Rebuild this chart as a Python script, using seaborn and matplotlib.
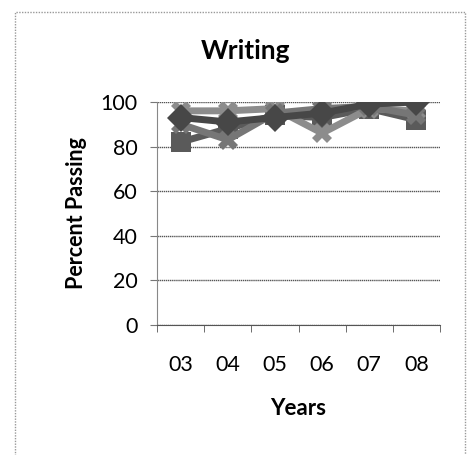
import numpy as np
import pandas as pd
import matplotlib
matplotlib.use("Agg")
import matplotlib.pyplot as plt
import seaborn as sns
from matplotlib.patches import Rectangle

# values (approximate)
years = ['03', '04', '05', '06', '07', '08']
series_a = [82, 88, 94, 93, 97, 92]
series_b = [96, 96, 97, 86, 97, 96]
series_c = [90, 83, 95, 97, 98, 94]
series_d = [93, 91, 93, 95, 99, 100]

names = ['A', 'B', 'C', 'D']
df = pd.DataFrame({
    'Year': years * 4,
    'Percent': series_a + series_b + series_c + series_d,
    'Series': [n for n in names for _ in years],
})
df['pos'] = df['Year'].map({y: i for i, y in enumerate(years)})

sns.set_style("white")
plt.rcParams['font.family'] = ['Lato', 'DejaVu Sans']
plt.rcParams['text.color'] = 'black'

fig = plt.figure(figsize=(4.72, 4.55), dpi=100)
ax = fig.add_axes([0.333, 0.286, 0.599, 0.49])

palette = {'A': '#5a5a5a', 'B': '#8c8c8c', 'C': '#767676', 'D': '#474747'}
markers = {'A': 's', 'B': 'X', 'C': 'X', 'D': 'D'}
sns.lineplot(data=df, x='pos', y='Percent', hue='Series', style='Series',
             palette=palette, markers=markers, dashes=False, lw=5,
             markersize=14, markeredgewidth=0, legend=False, ax=ax, zorder=3)

ax.set_ylim(0, 100)
ax.set_xlim(-0.5, 5.5)
ax.set_yticks(range(0, 101, 20))
ax.grid(axis='y', color='#555555', lw=1, ls=(0, (1, 0.5)))
ax.grid(axis='x', visible=False)
ax.set_xticks(range(len(years)))
ax.set_xticklabels(years)
ax.set_xticks(np.arange(-0.5, 6, 1), minor=True)
ax.tick_params(axis='x', which='major', length=0, pad=22, labelsize=15.5, labelcolor='black')
ax.tick_params(axis='x', which='minor', length=5, color='#555555', direction='out', bottom=True)
ax.tick_params(axis='y', length=5, color='#777777', pad=9, labelsize=15.5, labelcolor='black',
               left=True, direction='out')

for s in ['top', 'right']:
    ax.spines[s].set_visible(False)
ax.spines['left'].set_color('#888888')
ax.spines['bottom'].set_color('#555555')

ax.set_xlabel('Years', fontsize=16, fontweight='bold', labelpad=16, color='black')
ax.set_ylabel('Percent Passing', fontsize=15.5, fontweight='bold', labelpad=10, color='black')
fig.text(0.52, 0.888, 'Writing', ha='center', va='center', fontsize=19,
         fontweight='bold', color='black')

fig.patches.append(Rectangle((0.032, -0.01), 0.953, 0.984, transform=fig.transFigure,
                             fill=False, ec='#999999', lw=1, ls=(0, (1, 1))))

fig.savefig('out.png', dpi=100)
